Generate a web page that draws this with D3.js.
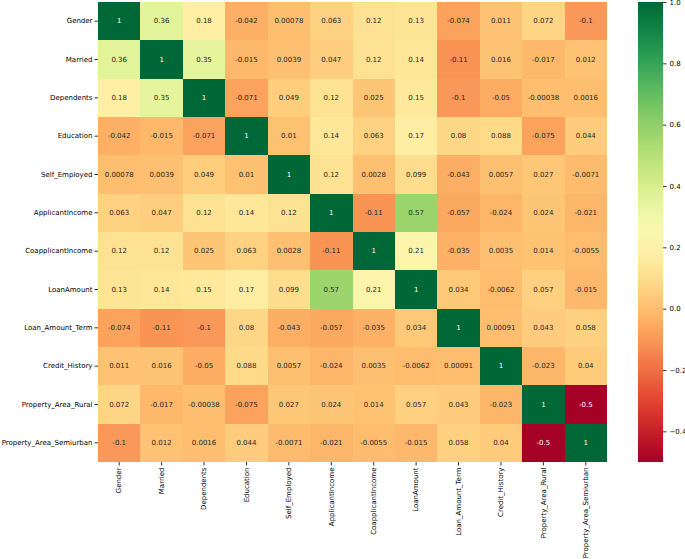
<!DOCTYPE html>
<html lang="en">
<head>
  <meta charset="UTF-8">
  <title>Correlation heatmap</title>
  <script src="https://cdnjs.cloudflare.com/ajax/libs/d3/7.8.5/d3.min.js"></script>
  <style>
    body { margin: 0; background: #fff; }
    svg text { font-family: "DejaVu Sans", sans-serif; }
    .cell { shape-rendering: crispEdges; }
    .axis path { display: none; }
    .axis line { stroke: #000; stroke-width: 0.8px; }
    .axis text { font-size: 7px; fill: #000; }
    .annot { font-size: 7px; text-anchor: middle; dominant-baseline: central; }
  </style>
</head>
<body>
  <svg width="685" height="559"></svg>
  <script>
    // variable names (rows and columns share them)
    var labels = ["Gender", "Married", "Dependents", "Education", "Self_Employed",
      "ApplicantIncome", "CoapplicantIncome", "LoanAmount", "Loan_Amount_Term",
      "Credit_History", "Property_Area_Rural", "Property_Area_Semiurban"]

    // correlation values, one row per variable
    var corrRows = [
      [1, 0.36, 0.18, -0.042, 0.00078, 0.063, 0.12, 0.13, -0.074, 0.011, 0.072, -0.1],
      [0.36, 1, 0.35, -0.015, 0.0039, 0.047, 0.12, 0.14, -0.11, 0.016, -0.017, 0.012],
      [0.18, 0.35, 1, -0.071, 0.049, 0.12, 0.025, 0.15, -0.1, -0.05, -0.00038, 0.0016],
      [-0.042, -0.015, -0.071, 1, 0.01, 0.14, 0.063, 0.17, 0.08, 0.088, -0.075, 0.044],
      [0.00078, 0.0039, 0.049, 0.01, 1, 0.12, 0.0028, 0.099, -0.043, 0.0057, 0.027, -0.0071],
      [0.063, 0.047, 0.12, 0.14, 0.12, 1, -0.11, 0.57, -0.057, -0.024, 0.024, -0.021],
      [0.12, 0.12, 0.025, 0.063, 0.0028, -0.11, 1, 0.21, -0.035, 0.0035, 0.014, -0.0055],
      [0.13, 0.14, 0.15, 0.17, 0.099, 0.57, 0.21, 1, 0.034, -0.0062, 0.057, -0.015],
      [-0.074, -0.11, -0.1, 0.08, -0.043, -0.057, -0.035, 0.034, 1, 0.00091, 0.043, 0.058],
      [0.011, 0.016, -0.05, 0.088, 0.0057, -0.024, 0.0035, -0.0062, 0.00091, 1, -0.023, 0.04],
      [0.072, -0.017, -0.00038, -0.075, 0.027, 0.024, 0.014, 0.057, 0.043, -0.023, 1, -0.5],
      [-0.1, 0.012, 0.0016, 0.044, -0.0071, -0.021, -0.0055, -0.015, 0.058, 0.04, -0.5, 1]
    ]

    // colour bar range and ticks
    var colorDomain = [-0.5, 1]
    var colorTicks = [-0.4, -0.2, 0.0, 0.2, 0.4, 0.6, 0.8, 1.0]

    var svg = d3.select("svg")
    // plot box (window.top is reserved, so use own names)
    var plotL = 98, plotT = 2, plotR = 607, plotB = 462

    var x = d3.scaleBand().domain(labels).range([plotL, plotR])
    var y = d3.scaleBand().domain(labels).range([plotT, plotB])
    var color = d3.scaleSequential(d3.interpolateRdYlGn).domain(colorDomain)

    // flatten into cells
    var cells = []
    corrRows.forEach((row, i) => {
      row.forEach((v, j) => cells.push({ r: labels[i], c: labels[j], v: v }))
    })

    svg.append("g").selectAll("rect")
      .data(cells)
      .join("rect")
      .attr("class", "cell")
      .attr("x", d => x(d.c))
      .attr("y", d => y(d.r))
      .attr("width", x.bandwidth())
      .attr("height", y.bandwidth())
      .attr("fill", d => color(d.v))

    // text colour like seaborn: white on dark cells
    function textColor(v) {
      var c = d3.rgb(color(v))
      var lum = [c.r, c.g, c.b].map(u => {
        u = u / 255
        return u <= 0.03928 ? u / 12.92 : Math.pow((u + 0.055) / 1.055, 2.4)
      })
      var l = 0.2126 * lum[0] + 0.7152 * lum[1] + 0.0722 * lum[2]
      return l > 0.408 ? "#262626" : "#ffffff"
    }

    svg.append("g").selectAll("text")
      .data(cells)
      .join("text")
      .attr("class", "annot")
      .attr("x", d => x(d.c) + x.bandwidth() / 2)
      .attr("y", d => y(d.r) + y.bandwidth() / 2)
      .attr("fill", d => textColor(d.v))
      .text(d => String(d.v))

    // axes
    svg.append("g")
      .attr("class", "axis")
      .attr("transform", `translate(${plotL},0)`)
      .call(d3.axisLeft(y).tickSize(3.5).tickPadding(2))

    var xAxis = svg.append("g")
      .attr("class", "axis")
      .attr("transform", `translate(0,${plotB})`)
      .call(d3.axisBottom(x).tickSize(3.5).tickPadding(2))
    xAxis.selectAll("text")
      .attr("transform", "rotate(-90)")
      .attr("text-anchor", "end")
      .attr("dy", "0.32em")
      .attr("x", -5.5)
      .attr("y", 0)

    // colour bar
    var cbX = 638, cbW = 25
    var cbScale = d3.scaleLinear().domain(colorDomain).range([plotB, plotT])
    var grad = svg.append("defs").append("linearGradient")
      .attr("id", "cbar")
      .attr("x1", 0).attr("y1", 1).attr("x2", 0).attr("y2", 0)
    grad.selectAll("stop")
      .data(d3.range(0, 1.0001, 0.02))
      .join("stop")
      .attr("offset", t => t)
      .attr("stop-color", t => color(colorDomain[0] + t * (colorDomain[1] - colorDomain[0])))

    svg.append("rect")
      .attr("x", cbX)
      .attr("y", plotT)
      .attr("width", cbW)
      .attr("height", plotB - plotT)
      .attr("fill", "url(#cbar)")

    svg.append("g")
      .attr("class", "axis")
      .attr("transform", `translate(${cbX + cbW},0)`)
      .call(d3.axisRight(cbScale).tickValues(colorTicks).tickFormat(d3.format(".1f")).tickSize(3.5).tickPadding(3))
  </script>
</body>
</html>
